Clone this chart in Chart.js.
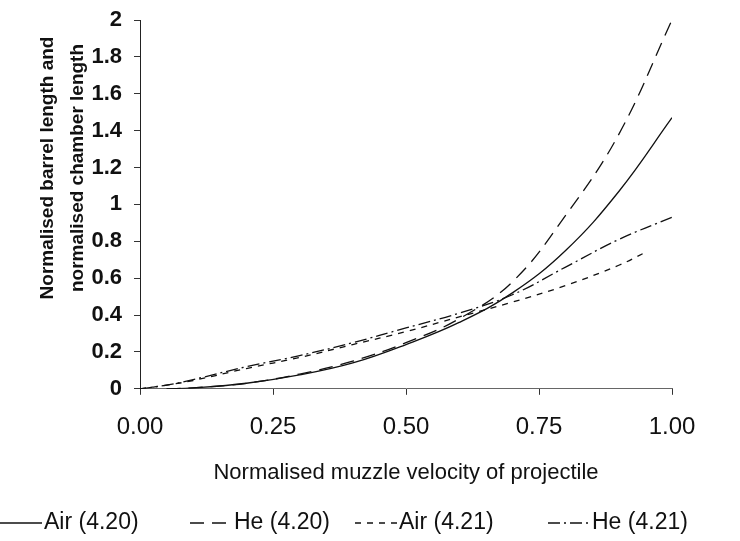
<!DOCTYPE html>
<html>
<head>
<meta charset="utf-8">
<script src="https://cdn.jsdelivr.net/npm/chart.js@4"></script>
<style>
  html, body { margin: 0; padding: 0; background: #fff; }
  #wrap { width: 740px; height: 541px; }
</style>
</head>
<body>
<div id="wrap"><canvas id="barrelChart"></canvas></div>
<script>
// normalised muzzle velocity
var velocity   = [0.05, 0.1, 0.2, 0.3, 0.4, 0.5, 0.6, 0.7, 0.8, 0.9, 1.0];
var velocity21 = [0, 0.05, 0.1, 0.2, 0.3, 0.4, 0.5, 0.6, 0.7, 0.8, 0.9, 0.95];
var velocityHe21 = [0, 0.05, 0.1, 0.2, 0.3, 0.4, 0.5, 0.6, 0.7, 0.8, 0.9, 1.0];

// normalised lengths
var air420 = [0, 0.005, 0.03, 0.075, 0.14, 0.24, 0.36, 0.52, 0.75, 1.07, 1.47];
var he420  = [0, 0.005, 0.03, 0.08, 0.15, 0.25, 0.38, 0.58, 0.94, 1.38, 2.0];
var air421 = [0, 0.02, 0.045, 0.11, 0.17, 0.24, 0.31, 0.39, 0.47, 0.56, 0.67, 0.74];
var he421  = [0, 0.02, 0.05, 0.12, 0.18, 0.25, 0.33, 0.41, 0.51, 0.66, 0.81, 0.93];

var xTicks = [0, 0.25, 0.5, 0.75, 1];

function pts(xs, ys) {
  return xs.map(function (x, i) { return {x: x, y: ys[i]}; });
}

var yTitle = ["Normalised barrel length and", "normalised chamber length"];

// y axis title drawn by hand so it can sit where the original has it
var yTitlePlugin = {
  id: "yTitle",
  afterDraw: function (chart) {
    var ctx = chart.ctx;
    ctx.save();
    ctx.fillStyle = "#111";
    ctx.font = "bold 19px 'Liberation Sans', Arial, sans-serif";
    ctx.textAlign = "center";
    ctx.textBaseline = "middle";
    ctx.translate(48, 168);
    ctx.rotate(-Math.PI / 2);
    ctx.fillText(yTitle[0], 0, 0);
    ctx.fillText(yTitle[1], 0, 30);
    ctx.restore();
  }
};

// one row legend with the dash patterns, like the original figure
var legendX = [0, 190, 355, 548];
var legendPlugin = {
  id: "rowLegend",
  afterDraw: function (chart) {
    var ctx = chart.ctx;
    var y = 523;
    ctx.save();
    ctx.font = "23px 'Liberation Sans', Arial, sans-serif";
    ctx.textBaseline = "middle";
    ctx.fillStyle = "#111";
    chart.data.datasets.forEach(function (ds, i) {
      var x = legendX[i];
      ctx.strokeStyle = ds.borderColor;
      ctx.lineWidth = 1.5;
      ctx.setLineDash(ds.borderDash || []);
      ctx.beginPath();
      ctx.moveTo(x, y);
      ctx.lineTo(x + 42, y);
      ctx.stroke();
      ctx.setLineDash([]);
      ctx.fillText(ds.label, x + 44, y);
    });
    ctx.restore();
  }
};

var line = {borderColor: "#111", borderWidth: 1.3, pointRadius: 0, fill: false, tension: 0.4};

new Chart("barrelChart", {
  type: "line",
  data: {
    datasets: [
      Object.assign({label: "Air (4.20)", data: pts(velocity, air420), borderDash: []}, line),
      Object.assign({label: "He (4.20)", data: pts(velocity, he420), borderDash: [14, 8]}, line),
      Object.assign({label: "Air (4.21)", data: pts(velocity21, air421), borderDash: [6, 6]}, line),
      Object.assign({label: "He (4.21)", data: pts(velocityHe21, he421), borderDash: [12, 4, 2, 4]}, line)
    ]
  },
  options: {
    responsive: true,
    maintainAspectRatio: false,
    animation: false,
    layout: {padding: {top: 20, right: 68, bottom: 55, left: 0}},
    plugins: {
      tooltip: {enabled: false},
      legend: {display: false}
    },
    scales: {
      x: {
        type: "linear",
        min: 0,
        max: 1,
        afterBuildTicks: function (axis) {
          axis.ticks = xTicks.map(function (v) { return {value: v}; });
        },
        border: {display: true, color: "#666", dash: [2, 4]},
        grid: {drawOnChartArea: false, tickLength: 6, color: "#333"},
        ticks: {
          color: "#111",
          padding: 18,
          autoSkip: false,
          maxRotation: 0,
          font: {family: "'Liberation Sans', Arial", size: 24},
          callback: function (v) { return v.toFixed(2); }
        },
        title: {
          display: true,
          text: "Normalised muzzle velocity of projectile",
          color: "#111",
          padding: {top: 0, bottom: 0},
          font: {family: "'Liberation Sans', Arial", size: 22}
        }
      },
      y: {
        min: 0,
        max: 2,
        afterFit: function (scale) {
          scale.width = 140;
          scale.paddingTop = 0;
          scale.paddingBottom = 0;
        },
        border: {display: true, color: "#222"},
        grid: {drawOnChartArea: false, tickLength: 6, color: "#333"},
        ticks: {
          stepSize: 0.2,
          autoSkip: false,
          color: "#111",
          padding: 12,
          font: {family: "'Liberation Sans', Arial", size: 22, weight: "bold"},
          callback: function (v) { return String(Number(v.toFixed(1))); }
        }
      }
    }
  },
  plugins: [yTitlePlugin, legendPlugin]
});
</script>
</body>
</html>
